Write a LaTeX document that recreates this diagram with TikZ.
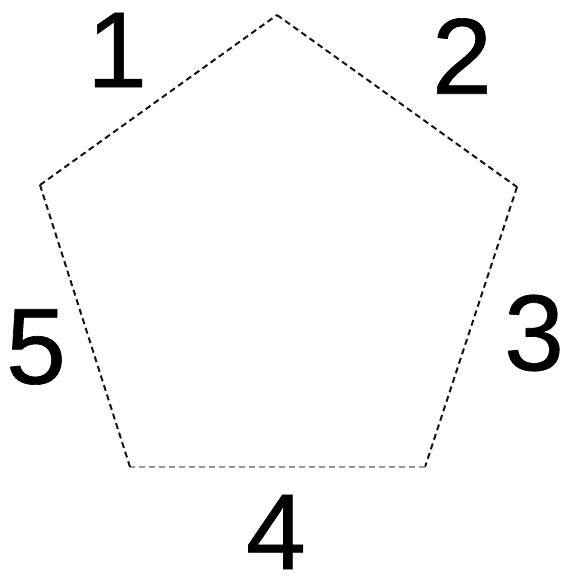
\documentclass[tikz,border=0pt]{standalone}
\usepackage{fontspec}
\setmainfont{Liberation Sans}
\newfontfamily\numfont[FakeBold=0.6]{Liberation Sans}
\definecolor{ink}{RGB}{20,20,20}
\definecolor{edgegray}{RGB}{150,150,150}

\begin{document}
\begin{tikzpicture}[x=1pt,y=1pt,line cap=butt,line join=round]
\tikzset{
  side/.style={draw=ink,line width=2pt,dash pattern=on 6pt off 4pt},
  sidelight/.style={draw=edgegray,line width=2pt,dash pattern=on 6pt off 4pt},
  num/.style={font=\numfont\fontsize{108}{108}\selectfont,text=black,inner sep=0pt}
}
\useasboundingbox (0,0) rectangle (565,581);
% corners of the pentagon
\coordinate (top) at (277,566);
\coordinate (right) at (517,394);
\coordinate (lowright) at (425,114);
\coordinate (lowleft) at (130,114);
\coordinate (left) at (40,396);
\draw[side] (left) -- (top);
\draw[side] (top) -- (right);
\draw[side] (right) -- (lowright);
\draw[sidelight] (lowright) -- (lowleft);
\draw[side] (lowleft) -- (left);
% side numbers
\node[num] (n1) at (117,531) {1};
\node[num] (n2) at (462,525) {2};
\node[num] (n3) at (534,248) {3};
\node[num] (n4) at (276,49) {4};
\node[num] (n5) at (36,234) {5};
\end{tikzpicture}
\end{document}
